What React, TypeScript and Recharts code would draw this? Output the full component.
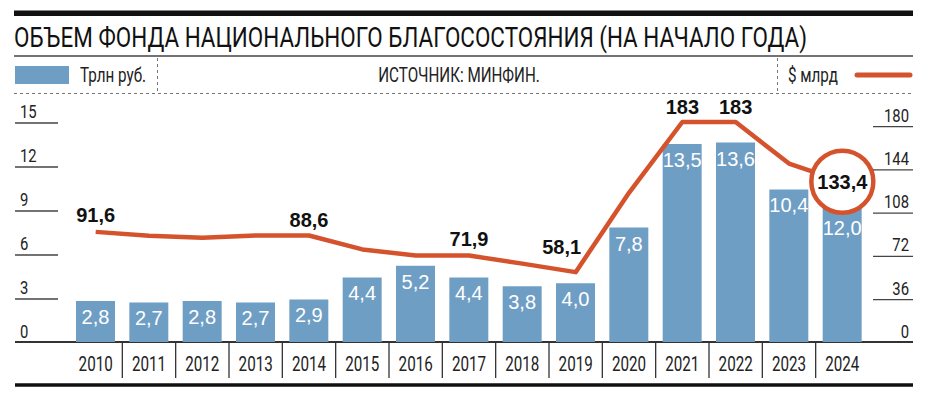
import React from 'react';
import { ComposedChart, Bar, Line, XAxis, YAxis, Customized } from 'recharts';

const years = ['2010','2011','2012','2013','2014','2015','2016','2017','2018','2019','2020','2021','2022','2023','2024'];
const trlnRub = [2.8, 2.7, 2.8, 2.7, 2.9, 4.4, 5.2, 4.4, 3.8, 4.0, 7.8, 13.5, 13.6, 10.4, 12.0];
const usdBn = [91.6, 88.4, 86.8, 88.6, 88.6, 77, 72, 71.9, 65.2, 58.1, 124.1, 183, 183, 148.4, 133.4];
const usdLabels = ['91,6','','','','88,6','','','71,9','','58,1','','183','183','','133,4'];
const leftTicks = [0, 3, 6, 9, 12, 15];
const rightTicks = [0, 36, 72, 108, 144, 180];

const title = 'ОБЪЕМ ФОНДА НАЦИОНАЛЬНОГО БЛАГОСОСТОЯНИЯ (НА НАЧАЛО ГОДА)';
const legendBar = 'Трлн руб.';
const legendLine = '$ млрд';
const source = 'ИСТОЧНИК: МИНФИН.';

const data = years.map((y, i) => ({ year: y, trln: trlnRub[i], usd: usdBn[i], lbl: usdLabels[i] }));

const W = 930;
const H = 396;
const BAR = '#6f9ec5';
const RED = '#d4532c';
const ROBO = "Roboto, 'Liberation Sans', sans-serif";
const SANS = "'Liberation Sans', Arial, sans-serif";
const M = { top: 122, right: 0, bottom: 0, left: 15 };
const LW = 54;
const RW = 61;
const XH = 54;
const bandW = (W - M.left - LW - RW - M.right) / years.length;
const baseY = H - XH;
const TITLE_SX = 0.86;

const fmt = (v: number) => v.toFixed(1).replace('.', ',');

const CText = ({ x, y, size, anchor = 'start', sx = 0.78, weight = 400, fill = '#222', children }: any) => (
  <text
    transform={`translate(${x},${y}) scale(${sx},1)`}
    x={0}
    y={0}
    fontSize={size}
    fontWeight={weight}
    fontFamily={ROBO}
    fill={fill}
    textAnchor={anchor}
  >
    {children}
  </text>
);

const Decor = () => (
  <g>
    <rect x={14} y={10.5} width={899} height={5.5} fill="#111" />
    <text
      transform={`translate(14,47) scale(${TITLE_SX},1)`}
      x={0}
      y={0}
      fontSize={28}
      fontFamily={ROBO}
      fill="#111"
      textLength={793 / TITLE_SX}
      lengthAdjust="spacingAndGlyphs"
    >
      {title}
    </text>
    <line x1={14} x2={913} y1={56} y2={56} stroke="#444" strokeWidth={1.5} />
    <rect x={15} y={66} width={54} height={18} fill={BAR} />
    <CText x={80} y={82} size={19.5}>{legendBar}</CText>
    <line x1={157.5} x2={157.5} y1={58} y2={92} stroke="#777" strokeDasharray="3 3" />
    <CText x={459} y={82} size={19.5} anchor="middle">{source}</CText>
    <line x1={777.5} x2={777.5} y1={58} y2={92} stroke="#777" strokeDasharray="3 3" />
    <CText x={788} y={82} size={19.5}>{legendLine}</CText>
    <line x1={857} x2={910} y1={75} y2={75} stroke={RED} strokeWidth={5} strokeLinecap="round" />
    <line x1={14} x2={913} y1={93.5} y2={93.5} stroke="#777" strokeDasharray="3 3" />
    <line x1={15} x2={913} y1={baseY} y2={baseY} stroke="#333" strokeWidth={2} />
    <line x1={15} x2={913} y1={385} y2={385} stroke="#111" strokeWidth={3.5} />
  </g>
);

const LeftTick = (p: any) => {
  const y = p.y;
  const v = p.payload.value;
  return (
    <g>
      {v !== 0 && <line x1={15} x2={58} y1={y + 1} y2={y + 1} stroke="#444" strokeWidth={1.3} />}
      <CText x={20} y={y - 4} size={19}>{v}</CText>
    </g>
  );
};

const RightTick = (p: any) => {
  const y = p.y;
  const v = p.payload.value;
  return (
    <g>
      {v !== 0 && <line x1={873} x2={913} y1={y + 1} y2={y + 1} stroke="#444" strokeWidth={1.3} />}
      <CText x={909} y={y - 4} size={19} anchor="end">{v}</CText>
    </g>
  );
};

const XTick = (p: any) => {
  const x = p.x;
  const i = p.index;
  return (
    <g>
      {i > 0 && <line x1={x - bandW / 2} x2={x - bandW / 2} y1={baseY} y2={378} stroke="#333" strokeWidth={1.3} />}
      <CText x={x} y={371} size={20} sx={0.76} anchor="middle">{p.payload.value}</CText>
    </g>
  );
};

const BarLabel = (p: any) => {
  const { x, y, width, value, index } = p;
  const last = index === years.length - 1;
  const ty = last ? y + 69 : y + 23;
  return (
    <text x={x + width / 2} y={ty} fontSize={20} fontFamily={SANS} fill="#fff" textAnchor="middle">{fmt(value)}</text>
  );
};

const LineLabel = (p: any) => {
  const { x, y, index } = p;
  const t = usdLabels[index];
  if (!t || index === years.length - 1) return <g />;
  let dx = 0;
  let dy = -10;
  if (index === 9) { dx = -14; dy = -18; }
  if (index === 4) { dy = -8; }
  if (index === 11 || index === 12) { dy = -8; }
  return (
    <text x={x + dx} y={y + dy} fontSize={20} fontWeight="bold" fontFamily={SANS} fill="#111" textAnchor="middle">{t}</text>
  );
};

const LineDot = (p: any) => {
  const { cx, cy, index } = p;
  if (index !== years.length - 1) return <g key={`d${index}`} />;
  return (
    <g key={`d${index}`}>
      <circle cx={cx} cy={cy} r={31} fill="#fff" stroke={RED} strokeWidth={4.5} />
      <text x={cx} y={cy + 7} fontSize={20} fontWeight="bold" fontFamily={SANS} fill="#111" textAnchor="middle">{usdLabels[index]}</text>
    </g>
  );
};

export default function App() {
  return (
    <div style={{ position: 'absolute', left: 0, top: 0, width: W, height: H, background: '#fff' }}>
      <ComposedChart width={W} height={H} data={data} margin={M}>
        <Customized component={<Decor />} />
        <XAxis dataKey="year" height={XH} axisLine={false} tickLine={false} tick={<XTick />} interval={0} />
        <YAxis yAxisId="l" orientation="left" width={LW} domain={[0, 15]} ticks={leftTicks} axisLine={false} tickLine={false} tick={<LeftTick />} />
        <YAxis yAxisId="r" orientation="right" width={RW} domain={[0, 180]} ticks={rightTicks} axisLine={false} tickLine={false} tick={<RightTick />} />
        <Bar yAxisId="l" dataKey="trln" fill={BAR} barSize={39} isAnimationActive={false} label={<BarLabel />} />
        <Line yAxisId="r" dataKey="usd" stroke={RED} strokeWidth={4.5} type="linear" strokeLinejoin="round" isAnimationActive={false} dot={<LineDot />} activeDot={false} label={<LineLabel />} />
      </ComposedChart>
    </div>
  );
}
